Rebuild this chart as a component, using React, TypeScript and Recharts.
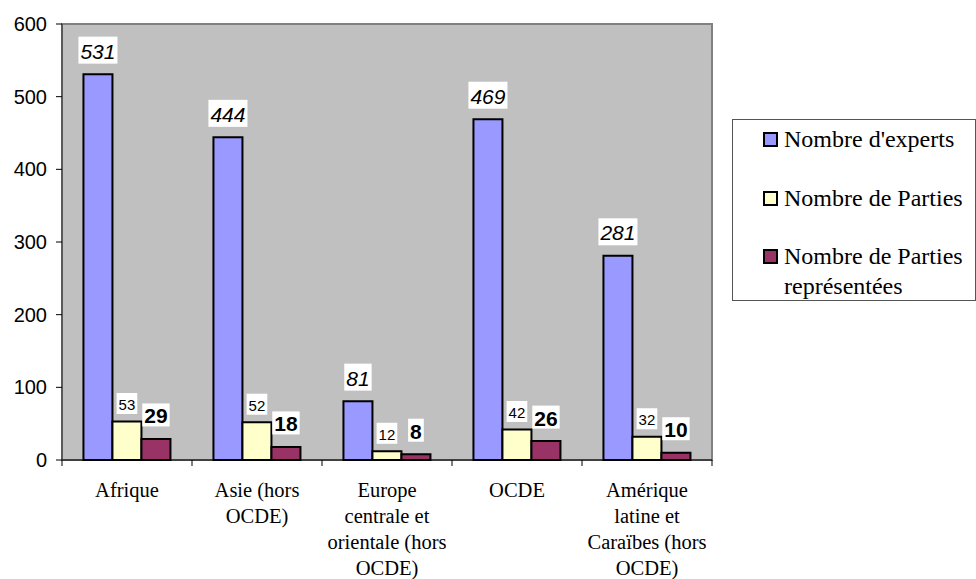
import { Bar, BarChart, CartesianGrid, LabelList, Legend, ReferenceArea, XAxis, YAxis } from "recharts";

const categories = [
  "Afrique",
  "Asie (hors\nOCDE)",
  "Europe\ncentrale et\norientale (hors\nOCDE)",
  "OCDE",
  "Amérique\nlatine et\nCaraïbes (hors\nOCDE)",
];
const experts = [531, 444, 81, 469, 281];
const parties = [53, 52, 12, 42, 32];
const partiesRepresentees = [29, 18, 8, 26, 10];
const yTicks = [0, 100, 200, 300, 400, 500, 600];

const seriesNames = ["Nombre d'experts", "Nombre de Parties", "Nombre de Parties représentées"];

const data = categories.map((c, i) => ({
  name: c,
  experts: experts[i],
  parties: parties[i],
  rep: partiesRepresentees[i],
}));

const W = 976;
const H = 579;
const PLOT_LEFT = 62;
const PLOT_TOP = 24;
const PLOT_RIGHT = 712;
const PLOT_BOTTOM = 460;
const BAND = (PLOT_RIGHT - PLOT_LEFT) / categories.length;

const SERIF = "'Liberation Serif', 'Times New Roman', serif";
const SANS = "'Liberation Sans', Arial, sans-serif";

function XTick(props: any) {
  const { x, y, payload, index } = props;
  const lines = String(payload.value).split("\n");
  return (
    <g>
      <line x1={x - BAND / 2} y1={y} x2={x - BAND / 2} y2={y + 6} stroke="#000" />
      {index === categories.length - 1 && (
        <line x1={x + BAND / 2} y1={y} x2={x + BAND / 2} y2={y + 6} stroke="#000" />
      )}
      <text x={x} y={y + 37} textAnchor="middle" fontFamily={SERIF} fontSize={20.5} fill="#000">
        {lines.map((l, i) => (
          <tspan key={i} x={x} dy={i === 0 ? 0 : 26}>
            {l}
          </tspan>
        ))}
      </text>
    </g>
  );
}

// white boxed value labels, one style per series
const labelStyles = {
  experts: { size: 21, italic: true, bold: false, h: 27, off: 24 },
  parties: { size: 15, italic: false, bold: false, h: 21, off: 18 },
  rep: { size: 21, italic: false, bold: true, h: 23, off: 24 },
};

const makeLabel = (kind: keyof typeof labelStyles) => (props: any) => {
  const s = labelStyles[kind];
  const x = Number(props.x);
  const y = Number(props.y);
  const w = Number(props.width);
  const txt = String(props.value);
  const cx = x + w / 2;
  const cy = y - s.off;
  const bw = txt.length * 0.556 * s.size + 4;
  return (
    <g>
      <rect x={cx - bw / 2} y={cy - s.h / 2} width={bw} height={s.h} fill="#fff" />
      <text
        x={cx}
        y={cy + 1}
        textAnchor="middle"
        dominantBaseline="central"
        fontFamily={SANS}
        fontSize={s.size}
        fontStyle={s.italic ? "italic" : "normal"}
        fontWeight={s.bold ? "bold" : "normal"}
        fill="#000"
      >
        {txt}
      </text>
    </g>
  );
};

function LegendBox(props: any) {
  const items = props.payload || [];
  return (
    <div
      style={{
        boxSizing: "border-box",
        width: 244,
        height: 182,
        border: "1px solid #555",
        background: "#fff",
        paddingTop: 4,
        fontFamily: SERIF,
        fontSize: 24,
        lineHeight: "30px",
        color: "#000",
      }}
    >
      {items.map((it: any, i: number) => (
        <div key={i} style={{ position: "relative", paddingLeft: 51, paddingRight: 4, marginBottom: 28.5 }}>
          <span
            style={{
              position: "absolute",
              left: 30,
              top: 8,
              width: 11,
              height: 11,
              border: "2px solid #000",
              background: it.color,
            }}
          />
          {it.value === seriesNames[2] ? (
            <>
              Nombre de Parties
              <br />
              représentées
            </>
          ) : (
            it.value
          )}
        </div>
      ))}
    </div>
  );
}

export default function App() {
  return (
    <div style={{ width: W, height: H, background: "#fff" }}>
      <style>{"body{margin:0}"}</style>
      <BarChart
        width={W}
        height={H}
        data={data}
        margin={{ top: PLOT_TOP, right: W - PLOT_RIGHT, bottom: 0, left: 0 }}
        barCategoryGap="16.5%"
        barGap={0}
      >
        <ReferenceArea y1={0} y2={600} fill="#c0c0c0" fillOpacity={1} stroke="#808080" strokeWidth={2} />
        <CartesianGrid vertical={false} stroke="#000" strokeOpacity={1} />
        <XAxis
          dataKey="name"
          interval={0}
          height={H - PLOT_BOTTOM}
          tickLine={false}
          tickSize={0}
          tickMargin={0}
          axisLine={{ stroke: "#000" }}
          tick={<XTick />}
        />
        <YAxis
          width={PLOT_LEFT}
          domain={[0, 600]}
          ticks={yTicks}
          tickSize={6}
          tickMargin={9}
          axisLine={{ stroke: "#333" }}
          tickLine={{ stroke: "#000" }}
          tick={{ fontFamily: SANS, fontSize: 20, fill: "#000" }}
        />
        <Legend
          layout="vertical"
          align="center"
          verticalAlign="middle"
          wrapperStyle={{ left: 732, top: 119, width: 244 }}
          content={<LegendBox />}
        />
        <Bar dataKey="experts" name={seriesNames[0]} fill="#9999ff" stroke="#000" strokeWidth={2} isAnimationActive={false}>
          <LabelList dataKey="experts" content={makeLabel("experts")} />
        </Bar>
        <Bar dataKey="parties" name={seriesNames[1]} fill="#ffffcc" stroke="#000" strokeWidth={2} isAnimationActive={false}>
          <LabelList dataKey="parties" content={makeLabel("parties")} />
        </Bar>
        <Bar dataKey="rep" name={seriesNames[2]} fill="#993366" stroke="#000" strokeWidth={2} isAnimationActive={false}>
          <LabelList dataKey="rep" content={makeLabel("rep")} />
        </Bar>
      </BarChart>
    </div>
  );
}
